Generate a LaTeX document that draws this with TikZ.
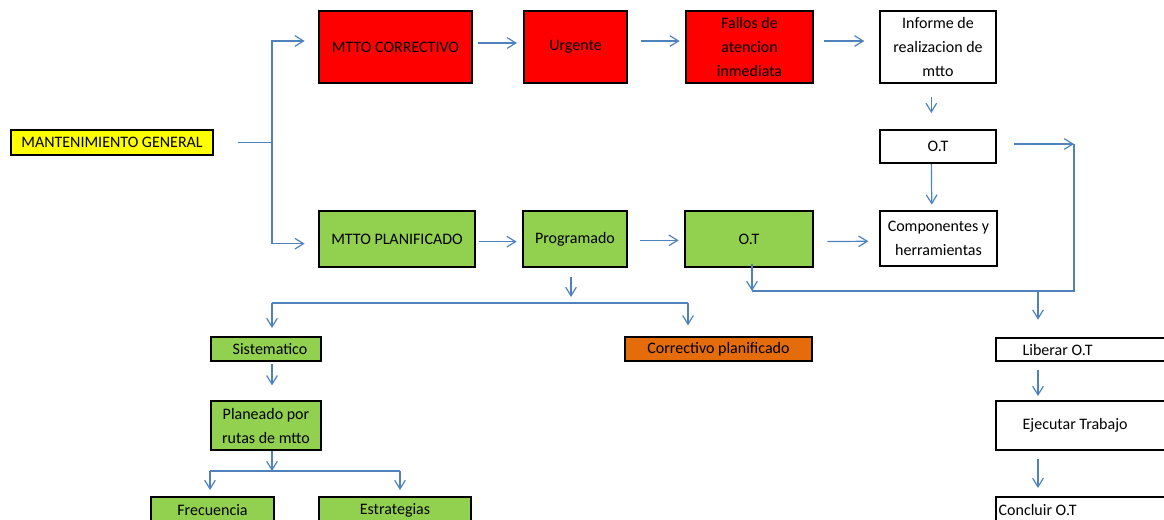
\documentclass[tikz,border=0pt]{standalone}
\usepackage{fontspec}
\setmainfont{Carlito}
\usetikzlibrary{arrows.meta,calc}
\definecolor{cred}{RGB}{255,0,0}
\definecolor{cgreen}{RGB}{146,208,80}
\definecolor{cyel}{RGB}{255,255,0}
\definecolor{corange}{RGB}{228,108,10}
\definecolor{cline}{RGB}{79,129,189}
\begin{document}
\begin{tikzpicture}[x=0.75pt,y=-0.75pt,
  box/.style={draw=black,line width=1.5pt,inner sep=0pt,align=center,anchor=north west,
    font=\fontsize{12}{18}\selectfont},
  sz/.style 2 args={minimum width=#1pt,minimum height=#2pt},
  lbox/.style={box,fill=white},
  conn/.style={draw=cline,line width=0.9pt},
  arr/.style={conn,-{Straight Barb[length=6.5pt,width=8pt,line width=0.9pt]}}]
\useasboundingbox (0,0) rectangle (1164,519);
\clip (0,0) rectangle (1164,519);
% nodes
\node[box,fill=cyel,sz={151.5}{18.75}] (mg) at (10,129) {MANTENIMIENTO GENERAL};
\node[box,fill=cred,sz={114.75}{54}] (mc) at (318,10) {MTTO CORRECTIVO};
\node[box,fill=cred,sz={77.25}{54}] (urg) at (523,10) {Urgente};
\node[box,fill=cred,sz={95.25}{54}] (fal) at (685,10) {Fallos de\\atencion\\inmediata};
\node[box,fill=white,sz={87}{54}] (inf) at (879,10) {Informe de\\realizacion de\\mtto};
\node[box,fill=white,sz={87}{24.75}] (ot1) at (879,129) {O.T};
\node[box,fill=cgreen,sz={117}{42}] (mp) at (318,210) {MTTO PLANIFICADO};
\node[box,fill=cgreen,sz={78}{42}] (prog) at (522,210) {Programado};
\node[box,fill=cgreen,sz={96}{42}] (ot2) at (684,210) {O.T};
\node[box,fill=white,sz={87.75}{41.25}] (comp) at (879,210) {Componentes y\\herramientas};
\node[box,fill=cgreen,sz={82.5}{18}] (sis) at (210,336) {\hspace*{6pt}Sistematico};
\node[box,fill=corange,sz={140.25}{18}] (cp) at (624,336) {Correctivo planificado};
\node[box,fill=cgreen,sz={82.5}{36.75}] (plan) at (210,400) {Planeado por\\rutas de mtto};
\node[box,fill=cgreen,sz={92.25}{19.5}] (fre) at (150,496) {Frecuencia};
\node[box,fill=cgreen,sz={114}{19.5}] (est) at (318,496) {Estrategias};
\node[lbox,sz={146.25}{17.25}] (lib) at (995,337) {\makebox[146.25pt][l]{\hspace*{20pt}Liberar O.T}};
\node[lbox,sz={146.25}{36.75}] (eje) at (995,400) {\makebox[146.25pt][l]{\hspace*{20pt}Ejecutar Trabajo}};
\node[lbox,sz={146.25}{19.5}] (con) at (995,496) {\makebox[146.25pt][l]{\hspace*{2pt}Concluir O.T}};
% junction coordinates
\coordinate (c4) at (272,303);
\coordinate (j1) at (mg.east -| c4);
\coordinate (c1) at (1074,144);
\coordinate (c2) at (752,291);
\coordinate (c3) at (1038,291);
\coordinate (c5) at (688,303);
\coordinate (c6) at (272,471);
\coordinate (c7) at (210,471);
\coordinate (c8) at (400,471);
% connectors
\draw[conn,shorten <=18pt] (mg.east) -- (j1);
\draw[arr,shorten >=10pt] (j1) |- ([yshift=4.5pt]mc.west);
\draw[arr,shorten >=10pt] (j1) |- ([yshift=-3.5pt]mp.west);
\draw[arr,shorten <=4pt,shorten >=4.5pt] ([yshift=3pt]mc.east) -- ([yshift=3pt]urg.west);
\draw[arr,shorten <=10pt,shorten >=4pt] ([yshift=4.5pt]urg.east) -- ([yshift=4.5pt]fal.west);
\draw[arr,shorten <=7.5pt,shorten >=11pt] ([yshift=4.5pt]fal.east) -- ([yshift=4.5pt]inf.west);
\draw[arr,shorten <=10pt,shorten >=12pt] ([xshift=-5pt]inf.south) -- ([xshift=-5pt]ot1.north);
\draw[arr,shorten >=4pt] ([xshift=-5pt]ot1.south) -- ([xshift=-5pt]comp.north);
\draw[arr,shorten <=13pt] (ot1.east |- c1) -- (c1);
\draw[conn] (c1) |- (c2);
\draw[arr] ($(ot2.south -| c2)+(0,-4)$) -- (c2);
\draw[arr,shorten >=13pt] (c3) -- (c3 |- lib.north);
\draw[arr,shorten <=2pt,shorten >=4pt] ([yshift=-2pt]mp.east) -- ([yshift=-2pt]prog.west);
\draw[arr,shorten <=9pt,shorten >=4pt] ([yshift=-1pt]prog.east) -- ([yshift=-1pt]ot2.west);
\draw[arr,shorten <=10pt,shorten >=8pt] ([yshift=-2pt]ot2.east) -- ([yshift=-2pt]comp.west);
\draw[arr] ($(prog.south)+(-4,9)$) -- ++(0,20);
\draw[conn] (c4) -- (c5);
\draw[arr,shorten >=6pt] (c4) -- (c4 |- sis.north);
\draw[arr,shorten >=8pt] (c5) -- (c5 |- cp.north);
\draw[arr,shorten <=1.5pt,shorten >=11pt] (sis.south -| c4) -- (plan.north -| c4);
\draw[arr] (plan.south -| c6) -- (c6);
\draw[conn] (c7) -- (c8);
\draw[arr,shorten >=4.5pt] (c7) -- (c7 |- fre.north);
\draw[arr,shorten >=4.5pt] (c8) -- (c8 |- est.north);
\draw[arr,shorten <=6pt,shorten >=3pt] (lib.south -| c3) -- (eje.north -| c3);
\draw[arr,shorten <=6pt,shorten >=6pt] (eje.south -| c3) -- (con.north -| c3);
\end{tikzpicture}
\end{document}
